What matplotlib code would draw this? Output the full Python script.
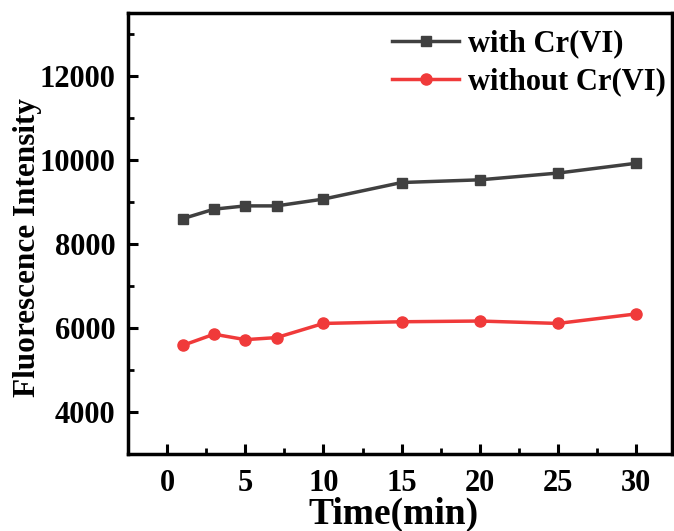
import numpy as np
import matplotlib.pyplot as plt
from matplotlib.ticker import MultipleLocator

plt.rcParams['font.family'] = 'Liberation Serif'
plt.rcParams['font.weight'] = 'bold'

time_min = [1, 3, 5, 7, 10, 15, 20, 25, 30]
with_cr = [8600, 8826, 8904, 8904, 9066, 9460, 9524, 9685, 9918]
without_cr = [5585, 5851, 5721, 5770, 6107, 6147, 6164, 6107, 6333]

fig = plt.figure(figsize=(6.74, 5.31), dpi=100)
ax = fig.add_axes([0.19, 0.145, 0.807, 0.831])

ax.plot(time_min, with_cr, color='#404040', lw=2.5, marker='s', ms=7,
        label='with Cr(VI)')
ax.plot(time_min, without_cr, color='#f03a3a', lw=2.5, marker='o', ms=8,
        label='without Cr(VI)')

ax.set_xlim(-2.5, 32.3)
ax.set_ylim(3000, 13500)
ax.xaxis.set_major_locator(MultipleLocator(5))
ax.xaxis.set_minor_locator(MultipleLocator(2.5))
ax.yaxis.set_major_locator(MultipleLocator(2000))
ax.yaxis.set_minor_locator(MultipleLocator(1000))
ax.set_yticks([4000, 6000, 8000, 10000, 12000])

for s in ax.spines.values():
    s.set_linewidth(2.5)
ax.tick_params(which='major', direction='in', length=7, width=2.2,
               labelsize=22, pad=9)
ax.tick_params(axis='x', which='major', pad=11)
ax.tick_params(which='minor', direction='in', length=4, width=2)
for lab in ax.get_xticklabels() + ax.get_yticklabels():
    lab.set_fontweight('bold')

ax.set_xlabel('Time(min)', fontsize=27, fontweight='bold')
ax.xaxis.set_label_coords(0.488, -0.098)
ax.set_ylabel('Fluorescence Intensity', fontsize=22.5, fontweight='bold')
ax.yaxis.set_label_coords(-0.158, 0.467)

ax.legend(loc='upper right', bbox_to_anchor=(1.012, 0.99), frameon=False,
          fontsize=22, handlelength=2.2, handletextpad=0.3,
          borderaxespad=0.1, borderpad=0.3, labelspacing=0.3)

fig.savefig('out.png', dpi=100)
